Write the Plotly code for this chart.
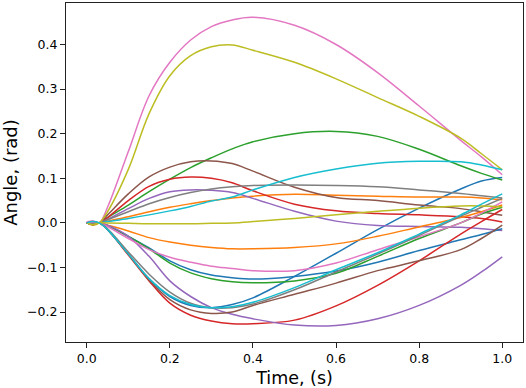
import plotly.graph_objects as go

T = [0, 0.015, 0.03, 0.05, 0.1, 0.15, 0.2, 0.25, 0.3, 0.35, 0.4, 0.5, 0.6, 0.7, 0.8, 0.9, 0.95, 1.0]

blue_1   = [0.002, -0.003, 0.0, -0.015, -0.07, -0.125, -0.165, -0.185, -0.19, -0.183, -0.168, -0.12, -0.068, -0.015, 0.033, 0.076, 0.094, 0.102]
orange_1 = [0.0, 0.002, 0.0, 0.004, 0.014, 0.025, 0.035, 0.043, 0.05, 0.056, 0.06, 0.064, 0.062, 0.06, 0.058, 0.058, 0.056, 0.052]
green_1  = [0.0, 0.002, 0.0, 0.012, 0.04, 0.07, 0.098, 0.124, 0.146, 0.166, 0.182, 0.2, 0.205, 0.194, 0.165, 0.128, 0.111, 0.096]
red_1    = [0.002, -0.002, 0.0, 0.012, 0.05, 0.082, 0.098, 0.103, 0.1, 0.09, 0.072, 0.042, 0.027, 0.021, 0.018, 0.014, 0.01, 0.002]
purple_1 = [0.0, 0.003, 0.0, 0.008, 0.032, 0.055, 0.07, 0.074, 0.073, 0.068, 0.055, 0.026, 0.004, -0.006, -0.008, -0.01, -0.013, -0.017]
brown_1  = [0.0, -0.002, 0.0, 0.018, 0.065, 0.103, 0.125, 0.137, 0.139, 0.133, 0.116, 0.08, 0.057, 0.05, 0.04, 0.032, 0.025, 0.017]
pink_1   = [0.002, 0.004, 0.0, 0.035, 0.16, 0.285, 0.36, 0.41, 0.44, 0.455, 0.461, 0.443, 0.40, 0.337, 0.262, 0.185, 0.148, 0.108]
gray_1   = [0.0, 0.002, 0.0, 0.007, 0.025, 0.043, 0.057, 0.068, 0.076, 0.081, 0.084, 0.085, 0.084, 0.081, 0.074, 0.066, 0.061, 0.056]
olive_1  = [0.0, -0.005, 0.0, 0.025, 0.12, 0.245, 0.33, 0.375, 0.395, 0.399, 0.387, 0.36, 0.323, 0.281, 0.239, 0.19, 0.155, 0.119]
cyan_1   = [0.0, 0.002, 0.0, 0.003, 0.01, 0.018, 0.027, 0.037, 0.049, 0.058, 0.074, 0.102, 0.121, 0.134, 0.138, 0.137, 0.13, 0.119]

blue_2   = [0.0, -0.002, 0.0, -0.006, -0.03, -0.056, -0.085, -0.105, -0.117, -0.123, -0.126, -0.12, -0.108, -0.088, -0.062, -0.038, -0.026, -0.013]
orange_2 = [0.0, -0.003, 0.0, -0.005, -0.018, -0.033, -0.043, -0.05, -0.055, -0.058, -0.058, -0.055, -0.047, -0.03, -0.009, 0.012, 0.025, 0.04]
green_2  = [0.0, 0.002, 0.0, -0.006, -0.03, -0.058, -0.09, -0.112, -0.125, -0.132, -0.134, -0.13, -0.113, -0.075, -0.035, 0.0, 0.02, 0.035]
red_2    = [0.0, -0.004, 0.0, -0.015, -0.072, -0.13, -0.18, -0.207, -0.22, -0.226, -0.226, -0.218, -0.186, -0.14, -0.085, -0.025, 0.003, 0.03]
purple_2 = [0.0, 0.002, 0.0, -0.005, -0.03, -0.075, -0.13, -0.165, -0.19, -0.205, -0.215, -0.229, -0.23, -0.215, -0.185, -0.14, -0.11, -0.076]
brown_2  = [0.0, -0.002, 0.0, -0.015, -0.07, -0.128, -0.172, -0.195, -0.203, -0.2, -0.185, -0.16, -0.135, -0.107, -0.085, -0.06, -0.035, -0.005]
pink_2   = [0.0, 0.002, 0.0, -0.008, -0.035, -0.06, -0.077, -0.088, -0.097, -0.102, -0.107, -0.107, -0.09, -0.06, -0.031, 0.0, 0.022, 0.047]
gray_2   = [0.0, -0.002, 0.0, -0.013, -0.065, -0.115, -0.155, -0.18, -0.19, -0.19, -0.182, -0.15, -0.11, -0.07, -0.028, 0.015, 0.035, 0.055]
olive_2  = [0.0, -0.004, 0.0, 0.0, -0.001, -0.002, -0.002, -0.002, -0.001, 0.0, 0.003, 0.01, 0.018, 0.026, 0.033, 0.038, 0.038, 0.036]
cyan_2   = [0.0, 0.003, 0.0, -0.015, -0.07, -0.125, -0.163, -0.183, -0.19, -0.188, -0.178, -0.145, -0.105, -0.067, -0.025, 0.018, 0.042, 0.065]

series = [blue_1, orange_1, green_1, red_1, purple_1, brown_1, pink_1, gray_1, olive_1, cyan_1,
          blue_2, orange_2, green_2, red_2, purple_2, brown_2, pink_2, gray_2, olive_2, cyan_2]
colors = ["#1f77b4", "#ff7f0e", "#2ca02c", "#d62728", "#9467bd",
          "#8c564b", "#e377c2", "#7f7f7f", "#bcbd22", "#17becf"]

x_ticks = [0, 0.2, 0.4, 0.6, 0.8, 1.0]
y_ticks = [-0.2, -0.1, 0, 0.1, 0.2, 0.3, 0.4]

fig = go.Figure()
for i, ys in enumerate(series):
    fig.add_trace(go.Scatter(x=T, y=ys, mode="lines",
                             line=dict(color=colors[i % 10], width=1.5, shape="spline", smoothing=1.0),
                             showlegend=False, hoverinfo="skip"))

axis_common = dict(showline=True, linecolor="#222", linewidth=1.2, mirror=True,
                   ticks="outside", ticklen=5, tickwidth=1, tickcolor="#222",
                   showgrid=False, zeroline=False, automargin=False,
                   tickfont=dict(family="DejaVu Sans", size=12.5, color="black"))
fig.update_xaxes(range=[-0.05, 1.05], tickvals=x_ticks, tickformat=".1f",
                 title=dict(text="Time, (s)", font=dict(family="DejaVu Sans", size=17.5, color="black"), standoff=8),
                 **axis_common)
fig.update_yaxes(range=[-0.267, 0.493], tickvals=y_ticks, tickformat=".1f",
                 title=dict(text="Angle, (rad)", font=dict(family="DejaVu Sans", size=18, color="black"), standoff=10),
                 **axis_common)
fig.update_layout(width=526, height=388, margin=dict(l=66, r=3, t=3, b=46),
                  paper_bgcolor="white", plot_bgcolor="white")
fig.write_html("out.html", config={"displayModeBar": False},
               post_script="document.body.style.margin='0';document.body.style.overflow='hidden';")
